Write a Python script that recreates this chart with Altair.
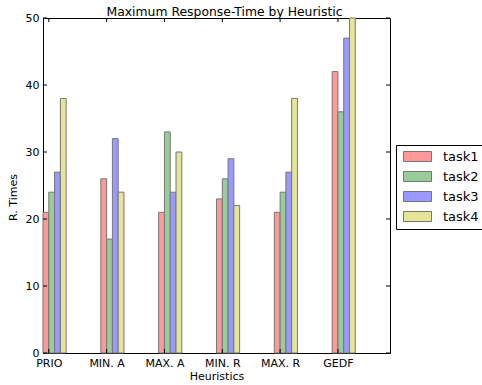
import altair as alt
import pandas as pd

heuristics = ["PRIO", "MIN. A", "MAX. A", "MIN. R", "MAX. R", "GEDF"]
tasks = ["task1", "task2", "task3", "task4"]
task1 = [21, 26, 21, 23, 21, 42]
task2 = [24, 17, 33, 26, 24, 36]
task3 = [27, 32, 24, 29, 27, 47]
task4 = [38, 24, 30, 22, 38, 50]
y_ticks = [0, 10, 20, 30, 40, 50]
colors = ["#ff9999", "#99cc99", "#9999ff", "#e5e599"]

BAR_W = 0.1
W, H = 347, 335

rows = []
for ti, (t, vals) in enumerate(zip(tasks, [task1, task2, task3, task4])):
    for hi, (h, v) in enumerate(zip(heuristics, vals)):
        x0 = hi + ti * BAR_W
        rows.append(dict(heuristic=h, task=t, value=v, base=0, x0=x0, x1=x0 + BAR_W))
df = pd.DataFrame(rows)

x_tick_vals = [i + BAR_W for i in range(len(heuristics))]
label_expr = "[" + ",".join("'%s'" % h for h in heuristics) + "][round(datum.value - %s)]" % BAR_W

xscale = alt.Scale(domain=[0, len(heuristics)], nice=False, zero=False)
yscale = alt.Scale(domain=[0, 50], nice=False)

bars = alt.Chart(df).mark_bar(stroke="#777777", strokeWidth=1).encode(
    x=alt.X("x0:Q", scale=xscale,
            axis=alt.Axis(values=x_tick_vals, labelExpr=label_expr, ticks=False, domain=False,
                          grid=False, title="Heuristics", labelPadding=4, titlePadding=2,
                          labelFontSize=11, titleFontSize=11, labelColor="black",
                          titleColor="black", titleFontWeight="normal")),
    x2="x1:Q",
    y=alt.Y("value:Q", scale=yscale,
            axis=alt.Axis(values=y_ticks, ticks=False, domain=False, grid=False,
                          title="R. Times", labelPadding=4, labelFontSize=11,
                          titleFontSize=11, labelColor="black", titleColor="black",
                          titleFontWeight="normal", titleX=-30, titleY=179,
                          titleAngle=-90, titleBaseline="middle")),
    y2="base:Q",
    color=alt.Color("task:N", scale=alt.Scale(domain=tasks, range=colors),
                    legend=alt.Legend(title=None, orient="none", legendX=353, legendY=127,
                                      strokeColor="black", fillColor="white", padding=5,
                                      symbolType="M-0.8,-1H4.8V1H-0.8Z", symbolSize=100,
                                      symbolStrokeColor="#777777", symbolStrokeWidth=1,
                                      symbolOpacity=1,
                                      labelFontSize=13, labelOffset=29, rowPadding=5,
                                      labelColor="black", cornerRadius=0)),
)

xt = pd.DataFrame({"x": x_tick_vals})
yt = pd.DataFrame({"y": y_ticks})

xtick_bottom = alt.Chart(xt).mark_rule(color="black", strokeWidth=1).encode(
    x=alt.X("x:Q", scale=xscale), y=alt.value(H - 4), y2=alt.value(H))
xtick_top = alt.Chart(xt).mark_rule(color="black", strokeWidth=1).encode(
    x=alt.X("x:Q", scale=xscale), y=alt.value(0), y2=alt.value(4))
ytick_left = alt.Chart(yt).mark_rule(color="black", strokeWidth=1).encode(
    y=alt.Y("y:Q", scale=yscale), x=alt.value(0), x2=alt.value(4))
ytick_right = alt.Chart(yt).mark_rule(color="black", strokeWidth=1).encode(
    y=alt.Y("y:Q", scale=yscale), x=alt.value(W - 4), x2=alt.value(W))

chart = alt.layer(bars, xtick_bottom, xtick_top, ytick_left, ytick_right).properties(
    width=W, height=H,
    title=alt.Title("Maximum Response-Time by Heuristic", fontSize=12.4, fontWeight="normal",
                    offset=3, dx=8, dy=9, color="black"),
    autosize=alt.AutoSizeParams(type="none"),
    padding={"left": 43, "top": 18, "right": 482 - 43 - W, "bottom": 385 - 18 - H},
).configure(font="DejaVu Sans").configure_view(stroke="black", strokeWidth=1)

chart.save("out.html", embed_options={"renderer": "svg", "actions": False})
